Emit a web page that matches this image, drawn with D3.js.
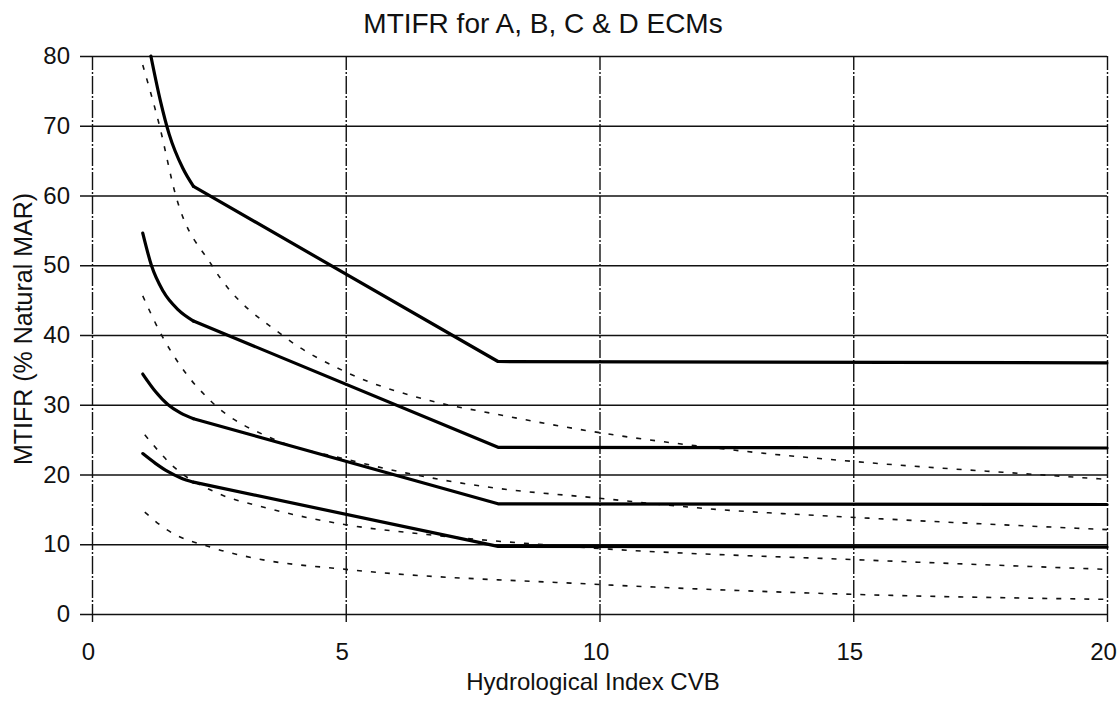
<!DOCTYPE html>
<html>
<head>
<meta charset="utf-8">
<script src="https://cdn.jsdelivr.net/npm/d3@7"></script>
<style>
  body { margin: 0; background: #fff; }
  svg { display: block; font-family: "Liberation Sans", Arial, sans-serif; }
</style>
</head>
<body>
<div class="chart"></div>
<script>
// axis ticks
const xTicks = [0, 5, 10, 15, 20]
const yTicks = [0, 10, 20, 30, 40, 50, 60, 70, 80]

// solid lines (MTIFR per ECM), [CVB, % MAR]
const ecmA = [[1.16, 80], [1.35, 73.5], [1.52, 68.8], [1.79, 63.9], [2.0, 61.3], [8, 36.2], [20, 36]]
const ecmB = [[1.0, 54.6], [1.17, 50], [1.4, 46.3], [1.7, 43.6], [2.0, 42.0], [8, 23.9], [20, 23.8]]
const ecmC = [[1.0, 34.4], [1.25, 31.9], [1.5, 30.0], [1.75, 28.8], [2.0, 28.0], [8, 15.8], [20, 15.7]]
const ecmD = [[1.0, 23.0], [1.25, 21.6], [1.5, 20.4], [1.75, 19.5], [2.0, 18.9], [8, 9.7], [20, 9.6]]

// dashed lines
const dashA = [[1.0, 78.7], [1.33, 70], [1.65, 60], [2.36, 50], [3.8, 39.7], [5, 34.7], [6.6, 30.7], [8, 28.6], [10, 26.0], [12.9, 23.3], [15.2, 21.75], [18.6, 20.0], [20, 19.3]]
const dashB = [[1.0, 45.6], [1.37, 40], [1.77, 35.3], [2.36, 30.4], [3.6, 25.0], [5, 22.2], [6.2, 20.2], [7.9, 18.1], [9.85, 16.7], [12.3, 15.0], [14.9, 13.9], [20, 12.1]]
const dashC = [[1.04, 25.7], [1.64, 20.9], [2.42, 17.5], [3.5, 15.1], [5, 12.8], [6.6, 11.4], [10.2, 9.3], [15, 7.8], [20, 6.4]]
const dashD = [[1.04, 14.6], [1.43, 12.3], [2.42, 9.4], [3.2, 8.0], [5, 6.4], [9.8, 4.3], [14.6, 2.9], [20, 2.1]]

const solidSeries = [ecmA, ecmB, ecmC, ecmD]
const dashedSeries = [dashA, dashB, dashC, dashD]
const KNEE = 2

class CurveChart {
  constructor(width, height) {
    this.width = width
    this.height = height
    this.plot = {left: 92, right: 1107, top: 56, bottom: 614}
    this.svg = d3.select(".chart").append("svg")
      .attr("width", width).attr("height", height)
    this.createScale()
    this.createAxes()
    this.draw()
  }

  createScale() {
    this.x = d3.scaleLinear().domain([0, 20]).range([this.plot.left, this.plot.right])
    this.y = d3.scaleLinear().domain([0, 80]).range([this.plot.bottom, this.plot.top])
  }

  createAxes() {
    const p = this.plot
    const w = p.right - p.left
    const h = p.bottom - p.top

    // horizontal grid + y labels
    this.svg.append("g")
      .attr("transform", "translate(" + (p.left - 12) + ",0)")
      .call(d3.axisLeft(this.y).tickValues(yTicks).tickSize(-(w + 12)).tickPadding(10))
      .call(g => g.select(".domain").remove())
      .call(g => g.selectAll("line").attr("stroke", "#111").attr("stroke-width", 1.5))
      .call(g => g.selectAll("text").attr("fill", "#111").attr("font-size", 24)
        .attr("font-family", "Liberation Sans, Arial, sans-serif"))

    // vertical grid + x labels
    this.svg.append("g")
      .attr("transform", "translate(0," + (p.bottom + 8) + ")")
      .call(d3.axisBottom(this.x).tickValues(xTicks).tickSize(-(h + 8)))
      .call(g => g.select(".domain").remove())
      .call(g => g.selectAll("line").attr("stroke", "#111").attr("stroke-width", 1.4)
        .attr("stroke-dasharray", "18,2,2,2"))
      .call(g => g.selectAll("text").attr("fill", "#111").attr("font-size", 24)
        .attr("font-family", "Liberation Sans, Arial, sans-serif")
        .attr("x", -4).attr("y", 38).attr("dy", 0))

    this.svg.append("text").text("MTIFR for A, B, C & D ECMs")
      .attr("x", 543).attr("y", 33).attr("text-anchor", "middle")
      .attr("font-size", 28).attr("fill", "#111")

    this.svg.append("text").text("Hydrological Index CVB")
      .attr("x", 593).attr("y", 690).attr("text-anchor", "middle")
      .attr("font-size", 24).attr("fill", "#111")

    this.svg.append("text").text("MTIFR (% Natural MAR)")
      .attr("transform", "translate(32,329) rotate(-90)")
      .attr("text-anchor", "middle")
      .attr("font-size", 25).attr("fill", "#111")
  }

  draw() {
    const that = this
    const smooth = d3.line().x(d => that.x(d[0])).y(d => that.y(d[1])).curve(d3.curveMonotoneX)
    const straight = d3.line().x(d => that.x(d[0])).y(d => that.y(d[1]))

    const dashed = this.svg.append("g").attr("id", "dashed")
    dashed.selectAll("path").data(dashedSeries).enter().append("path")
      .attr("d", d => smooth(d))
      .attr("fill", "none").attr("stroke", "#111")
      .attr("stroke-width", 1.6).attr("stroke-dasharray", "5,9")

    const solid = this.svg.append("g").attr("id", "solid")
    // curved head up to the knee, straight after it
    solid.selectAll("path.head").data(solidSeries).enter().append("path")
      .attr("class", "head")
      .attr("d", d => smooth(d.filter(p => p[0] <= KNEE)))
    solid.selectAll("path.tail").data(solidSeries).enter().append("path")
      .attr("class", "tail")
      .attr("d", d => straight(d.filter(p => p[0] >= KNEE)))
    solid.selectAll("path")
      .attr("fill", "none").attr("stroke", "#000")
      .attr("stroke-width", 3.2).attr("stroke-linejoin", "round").attr("stroke-linecap", "round")
  }
}

new CurveChart(1120, 701)
</script>
</body>
</html>
